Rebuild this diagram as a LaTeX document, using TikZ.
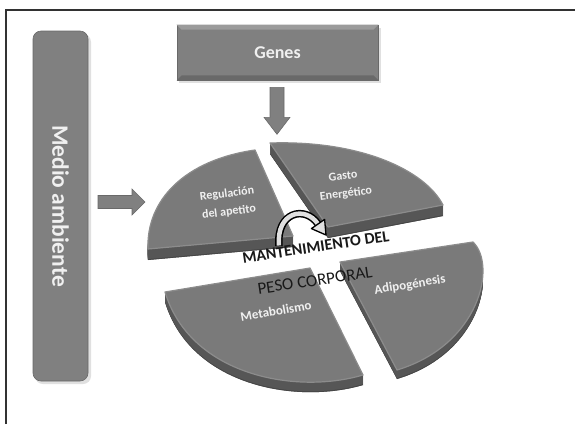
\documentclass[tikz,border=0pt]{standalone}
\usepackage{fontspec}
\setmainfont{Carlito}
\usetikzlibrary{calc}
\definecolor{boxc}{RGB}{128,128,128}
\definecolor{boxlight}{RGB}{155,155,155}
\definecolor{boxdark}{RGB}{105,105,105}
\definecolor{topc}{RGB}{122,122,122}
\definecolor{rimc}{RGB}{140,140,140}
\definecolor{sidec}{RGB}{86,86,86}
\definecolor{sidedark}{RGB}{70,70,70}
\definecolor{txtc}{RGB}{240,240,240}
\definecolor{framec}{RGB}{50,50,50}
\definecolor{darktxt}{RGB}{25,25,25}
\tikzset{
  box/.style={fill=boxc, draw=boxdark, line width=0.6, text=txtc, inner sep=0},
  blockarrow/.style={fill=boxc, draw=boxdark, line width=0.6},
  topface/.style={fill=topc, draw=rimc, line width=1.2, line join=round},
  sideface/.style={fill=sidec},
  piecetext/.style={text=txtc, font=\bfseries\fontsize{12}{13}\selectfont, rotate=7, inner sep=0},
  centertext/.style={text=darktxt, font=\bfseries\fontsize{16}{18}\selectfont, rotate=8.5, inner sep=0},
  centertextb/.style={text=darktxt, font=\fontsize{17}{19}\selectfont, rotate=8.5, inner sep=0}
}
\def\pieceTL{(255,150) -- (293,236) -- (148,249) .. controls (146,200) and (185,160) .. cycle}
\def\pieceTR{(270,143) -- (328,227) -- (443,205) .. controls (425,170) and (360,140) .. cycle}
\def\pieceBR{(340,262) -- (473,242) .. controls (497,265) and (480,345) .. (397,370) -- cycle}
\def\pieceBL{(165,292) -- (310,268) -- (363,375) .. controls (295,395) and (190,375) .. cycle}
\begin{document}
\begin{tikzpicture}[x=1pt,y=1pt]
\begin{scope}[yscale=-1]
\useasboundingbox (0,0) rectangle (575,424);
\fill[white] (0,0) rectangle (575,424);
\draw[framec, line width=1.6] (6,424) -- (6,10) -- (575,10);

% Medio ambiente
\fill[black!12] (35,34) [rounded corners=8] rectangle (91,384);
\node[box, rounded corners=8, rotate=-90, minimum width=350, minimum height=55,
      font=\bfseries\fontsize{23.5}{26}\selectfont] (medio) at (60.5,206) {Medio ambiente};

% Genes
\fill[black!12] (179,28) rectangle (381,83);
\node[box, minimum width=201, minimum height=55,
      font=\bfseries\fontsize{18}{20}\selectfont] (genes) at (277.5,52.5) {Genes};
\fill[boxlight] (genes.north west) -- (genes.north east) -- ++(-5,5) -- ($(genes.north west)+(5,5)$) -- cycle;
\fill[boxdark] (genes.south west) -- (genes.south east) -- ++(-5,-5) -- ($(genes.south west)+(5,-5)$) -- cycle;

% block arrows
\coordinate (dstart) at ($(genes.south)+(-0.5,7)$);
\fill[blockarrow] ($(dstart)+(-7,0)$) -- ++(14,0) -- ++(0,30) -- ++(6,0) -- ($(dstart)+(0,47)$)
   -- ($(dstart)+(-13,30)$) -- ++(6,0) -- cycle;
\coordinate (rstart) at (98,202);
\fill[blockarrow] ($(rstart)+(0,-6.5)$) -- ++(34,0) -- ++(0,-6.5) -- ($(rstart)+(47,0)$)
   -- ($(rstart)+(34,13)$) -- ++(0,-6.5) -- ($(rstart)+(0,6.5)$) -- cycle;

% pie pieces: side faces and top faces
\foreach \s in {1,...,11}{\fill[sideface, shift={(0,\s)}] \pieceTL;}
\fill[sidedark, shift={(0,11)}] \pieceTL;
\foreach \s in {1,...,10}{\fill[sideface, shift={(0,\s)}] \pieceTL;}
\fill[topface] \pieceTL;

\foreach \s in {1,...,11}{\fill[sideface, shift={(0,\s)}] \pieceTR;}
\fill[sidedark, shift={(0,11)}] \pieceTR;
\foreach \s in {1,...,10}{\fill[sideface, shift={(0,\s)}] \pieceTR;}
\fill[topface] \pieceTR;

\foreach \s in {1,...,9}{\fill[sideface, shift={(0,\s)}] \pieceBR;}
\fill[sidedark, shift={(0,9)}] \pieceBR;
\foreach \s in {1,...,8}{\fill[sideface, shift={(0,\s)}] \pieceBR;}
\fill[topface] \pieceBR;

\foreach \s in {1,...,10}{\fill[sideface, shift={(0,\s)}] \pieceBL;}
\fill[sidedark, shift={(0,10)}] \pieceBL;
\foreach \s in {1,...,9}{\fill[sideface, shift={(0,\s)}] \pieceBL;}
\fill[topface] \pieceBL;

% piece labels (one node per line)
\node[piecetext] (reg1) at (227,194) {Regulación};
\node[piecetext] (reg2) at (229,212) {del apetito};
\node[piecetext] (gasto1) at (343,176) {Gasto};
\node[piecetext] (gasto2) at (346,194) {Energético};
\node[piecetext, font=\bfseries\fontsize{13}{14}\selectfont, rotate=2] (adipo) at (410,285) {Adipogénesis};
\node[piecetext, font=\bfseries\fontsize{13}{14}\selectfont, rotate=3] (meta) at (276,311) {Metabolismo};

% curved hollow arrow
\coordinate (ca) at (279,246);
\coordinate (cb) at (318,224);
\draw[black, line width=7.5] (ca) .. controls (276,212) and (305,205) .. (cb);
\draw[black!12, line width=4.5] ($(ca)+(0,-0.5)$) .. controls (276,212) and (305,205) .. (cb);
\fill[black!12, draw=black, line width=1.3, line join=round] (311.4,228.6) -- (326,235) -- (324.6,219.4) -- cycle;

% centre text (word by word along a tilted line)
\node[centertext] (mant1) at (301.7,249.1) {MANTENIMIENTO};
\node[centertext] (mant2) at (376.8,237.8) {DEL};
\node[centertextb] (peso1) at (275.5,286.4) {PESO};
\node[centertextb] (peso2) at (334.7,277.6) {CORPORAL};
\end{scope}
\end{tikzpicture}
\end{document}
